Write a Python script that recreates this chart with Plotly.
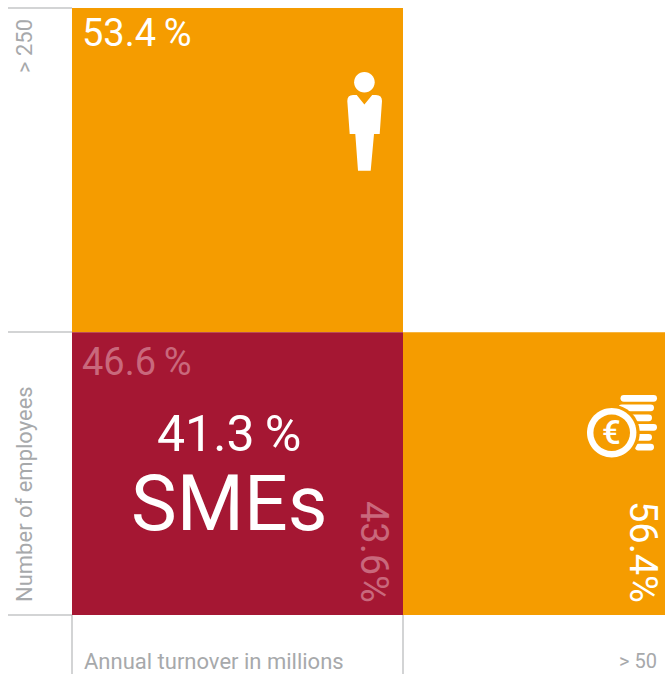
import plotly.graph_objects as go

# ---- data ----
employee_shares = [46.6, 53.4]          # lower row, upper row (share of height)
top_label = "53.4\u2009%"
row_label = "46.6\u2009%"
sme_label = "41.3\u2009%"
sme_name = "SMEs"
col_label = "43.6%"
right_label = "56.4%"
axis_y_title = "Number of employees"
axis_y_top = "> 250"
axis_x_title = "Annual turnover in millions"
axis_x_right = "> 50"

# ---- layout constants ----
W, H = 665, 674
X0, X1, X2 = 72, 403, 665      # column edges in pixels
Y_BASE, Y_TOP = 615, 8         # pixels of 0 % and 100 %
ORANGE, RED, GREY, PINK = "#F59C00", "#A51733", "#A7A9AB", "#C9687C"
FONT = "Roboto"

scale = (Y_BASE - Y_TOP) / 100
def yv(py):
    return (Y_BASE - py) / scale

fig = go.Figure()
low, up = employee_shares
fig.add_bar(x=[(X0 + X1) / 2], y=[up], base=[low], width=[X1 - X0], marker=dict(color=ORANGE, line_width=0), hoverinfo="skip")
fig.add_bar(x=[(X1 + X2) / 2], y=[low], base=[0], width=[X2 - X1], marker=dict(color=ORANGE, line_width=0), hoverinfo="skip")
fig.add_bar(x=[(X0 + X1) / 2], y=[low], base=[0], width=[X1 - X0], marker=dict(color=RED, line_width=0), hoverinfo="skip")

def path(cmds):
    out = []
    for c in cmds:
        if isinstance(c, str):
            out.append(c)
        else:
            out.append(f"{c[0]},{yv(c[1])}")
    return " ".join(out)

def line(x0, y0, x1, y1):
    fig.add_shape(type="line", x0=x0, x1=x1, y0=yv(y0), y1=yv(y1), line=dict(color=GREY, width=1), layer="above")

def circle(cx, cy, r, color):
    fig.add_shape(type="path", path=path([
        "M", (cx - r, cy),
        "C", (cx - r, cy - .552 * r), (cx - .552 * r, cy - r), (cx, cy - r),
        "C", (cx + .552 * r, cy - r), (cx + r, cy - .552 * r), (cx + r, cy),
        "C", (cx + r, cy + .552 * r), (cx + .552 * r, cy + r), (cx, cy + r),
        "C", (cx - .552 * r, cy + r), (cx - r, cy + .552 * r), (cx - r, cy), "Z"]),
        fillcolor=color, line_width=0, layer="above")

def pill(x0, x1, y0, y1):
    r = (y1 - y0) / 2
    fig.add_shape(type="path", path=path([
        "M", (x0 + r, y0), "L", (x1 - r, y0), "Q", (x1, y0), (x1, y0 + r), "Q", (x1, y1), (x1 - r, y1),
        "L", (x0 + r, y1), "Q", (x0, y1), (x0, y0 + r), "Q", (x0, y0), (x0 + r, y0), "Z"]),
        fillcolor="white", line_width=0, layer="above")

# guide lines
line(8, 8, X0, 8); line(8, 332, X0, 332); line(8, 615, X0, 615)
line(X0, 615, X0, 674); line(X1, 615, X1, 674)

# person icon
circle(364.4, 82.3, 10.3, "white")
fig.add_shape(type="path", path=path([
    "M", (353, 95), "L", (356.7, 95), "L", (364.4, 104.5), "L", (372.2, 95), "L", (376, 95),
    "Q", (382, 95), (382, 101), "L", (379.7, 134), "L", (374, 134), "L", (370.7, 170.7), "L", (358, 170.7),
    "L", (355.3, 134), "L", (349.7, 134), "L", (347.3, 101), "Q", (347.3, 95), (353, 95), "Z"]),
    fillcolor="white", line_width=0, layer="above")

# coins icon
for x_left, x_right, y_top in [(620.5, 657, 395), (618.5, 654, 404.5), (625, 652, 414.5),
                               (628, 657, 424), (635, 652, 434), (635, 654, 443.7)]:
    pill(x_left, x_right, y_top, y_top + 6.7)
circle(611.7, 432.7, 28, ORANGE)
circle(611.7, 432.7, 24.7, "white")
circle(611.7, 432.7, 18.3, ORANGE)

def text(s, px, py, size, color, angle=0, anchor="center", weight=400, valign="middle"):
    fig.add_annotation(text=s, x=px, y=yv(py), xref="x", yref="y", showarrow=False, textangle=angle,
                       xanchor=anchor, yanchor=valign, font=dict(family=FONT, size=size, color=color, weight=weight))

text(top_label, 137, 33, 38, "white")
text(row_label, 137, 362, 38, PINK)
text(sme_label, 229, 434, 50, "white")
text(sme_name, 229, 504, 77, "white")
text(col_label, 374, 552, 38, PINK, angle=90)
text(right_label, 643, 552, 38, "white", angle=90)
text("€", 611.5, 432.3, 33, "white", weight=500)
text(axis_y_title, 24, 494, 22, GREY, angle=-90)
text(axis_y_top, 24, 46, 22, GREY, angle=-90)
text(axis_x_title, 213.5, 661, 22, GREY)
text(axis_x_right, 638, 661, 20, GREY)

fig.update_layout(
    width=W, height=H, margin=dict(l=0, r=0, t=0, b=0), barmode="overlay", showlegend=False,
    paper_bgcolor="white", plot_bgcolor="white",
    xaxis=dict(range=[0, W], visible=False, fixedrange=True),
    yaxis=dict(range=[yv(H), yv(0)], visible=False, fixedrange=True),
)
fig.write_html("out.html", config=dict(displayModeBar=False), default_width=W, default_height=H,
               post_script="document.body.style.margin='0';document.body.style.overflow='hidden';")
